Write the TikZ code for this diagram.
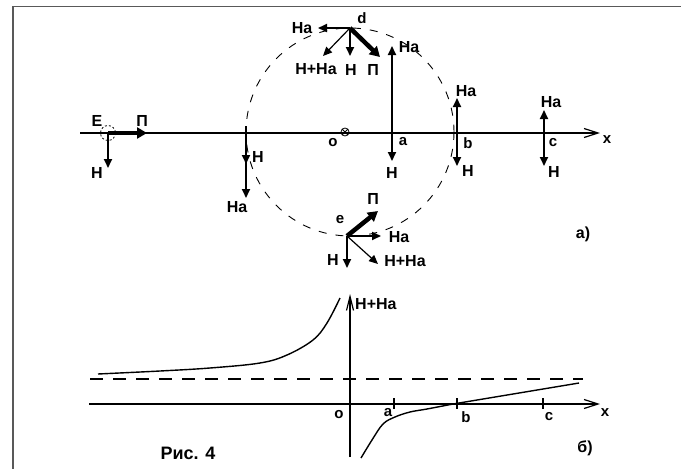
\documentclass[tikz,border=0pt]{standalone}
\usepackage{fontspec}
\setmainfont{Liberation Sans}
\usetikzlibrary{arrows.meta}
\begin{document}
\begin{tikzpicture}[x=1pt,y=-1pt,
  lbl/.style={font=\bfseries\fontsize{16}{16}\selectfont, inner sep=0pt},
  sml/.style={font=\bfseries\fontsize{15}{15}\selectfont, inner sep=0pt},
  big/.style={font=\bfseries\fontsize{18}{18}\selectfont, inner sep=0pt},
  vec/.style={line width=2pt, -{Triangle[length=9pt,width=8pt]}},
  thinvec/.style={line width=1.2pt, -{Triangle[length=9pt,width=8pt]}},
  pvec/.style={line width=4.5pt, -{Triangle[length=10pt,width=11pt]}},
  axis/.style={line width=1.2pt, -{Straight Barb[length=14pt,width=9pt]}},
  frameline/.style={line width=1.6pt, draw=black!65},
  circ/.style={dash pattern=on 8pt off 9pt, line width=0.9pt},
  curve/.style={line width=1.4pt}]
\useasboundingbox (0,0) rectangle (681,469);
\draw[frameline] (13,469) -- (13,6.5) -- (681,6.5);

% ---------- part a) ----------
\coordinate (A0) at (80,133); \coordinate (A1) at (600,133);
\draw[axis] (A0) -- (A1);
\node[sml] (xa) at (607,140) {x};

\draw[circ] (350,132) circle (104);

% point E
\coordinate (E) at (108,133);
\coordinate (Ep) at (147,133);
\coordinate (Eh) at (108,168);
\draw[dash pattern=on 2pt off 2pt, line width=0.8pt] (E) circle (7.5);
\draw[pvec] (E) -- (Ep);
\draw[vec] (E) -- (Eh);
\node[lbl] (Elab) at (97,121) {E};
\node[lbl] (EPl) at (142,121) {П};
\node[lbl] (EHl) at (97,173) {H};

% left crossing
\coordinate (L) at (246,133);
\coordinate (Ltop) at (246,126);
\coordinate (LH) at (246,164);
\coordinate (LHa) at (246,198);
\draw[vec] (Ltop) -- (LHa);
\draw[vec] (L) -- (LH);
\node[lbl] (LHl) at (258,157) {H};
\node[lbl] (LHal) at (237,207) {Ha};

% centre o
\node[circle, draw, line width=0.8pt, inner sep=0pt, minimum size=8pt] (oc) at (345,132) {};
\draw[line width=0.8pt] (oc.north east) -- (oc.south west) (oc.north west) -- (oc.south east);
\node[sml] (ol) at (333,143) {o};

% point a
\coordinate (Pa) at (392,133);
\coordinate (PaU) at (392,46);
\coordinate (PaD) at (392,161);
\draw[vec] (Pa) -- (PaU);
\draw[vec] (Pa) -- (PaD);
\node[lbl] (PaUl) at (409,47) {Ha};
\node[lbl] (PaDl) at (392,173) {H};
\node[sml] (PaL) at (403,142) {a};

% point b
\coordinate (Pb) at (457,133);
\coordinate (PbU) at (457,98);
\coordinate (PbD) at (457,166);
\draw[vec] (Pb) -- (PbU);
\draw[vec] (Pb) -- (PbD);
\node[lbl] (PbUl) at (466,91) {Ha};
\node[lbl] (PbDl) at (468,171) {H};
\node[sml] (PbL) at (468,143) {b};

% point c
\coordinate (Pc) at (544,133);
\coordinate (PcU) at (544,110);
\coordinate (PcD) at (544,166);
\draw[vec] (Pc) -- (PcU);
\draw[vec] (Pc) -- (PcD);
\node[lbl] (PcUl) at (551,102) {Ha};
\node[lbl] (PcDl) at (554,172) {H};
\node[sml] (PcL) at (553,143) {c};

% point d
\coordinate (D) at (350,28);
\coordinate (DHa) at (318,28);
\coordinate (DS) at (323,56);
\coordinate (DH) at (350,56);
\coordinate (DP) at (380,57);
\draw[vec] (D) -- (DHa);
\draw[thinvec] (D) -- (DS);
\draw[vec] (D) -- (DH);
\draw[pvec] (D) -- (DP);
\node[sml] (Dl) at (362,18) {d};
\node[lbl] (DHal) at (302,28) {Ha};
\node[lbl] (DSl) at (316,69) {H+Ha};
\node[lbl] (DHl) at (351,70) {H};
\node[lbl] (DPl) at (373,70) {П};

% point e
\coordinate (Pe) at (347,236);
\coordinate (PeP) at (378,211);
\coordinate (PeHa) at (381,236);
\coordinate (PeH) at (347,268);
\coordinate (PeS) at (378,264);
\draw[thinvec] (Pe) -- (PeS);
\draw[vec] (Pe) -- (PeHa);
\draw[vec] (Pe) -- (PeH);
\draw[pvec] (Pe) -- (PeP);
\node[sml] (Pel) at (340,220) {e};
\node[lbl] (PePl) at (373,199) {П};
\node[lbl] (PeHal) at (399,237) {Ha};
\node[lbl] (PeHl) at (333,260) {H};
\node[lbl] (PeSl) at (405,261) {H+Ha};

\node[lbl] (tagA) at (583,234) {a)};

% ---------- part b) ----------
\coordinate (B0) at (89,404); \coordinate (B1) at (600,404);
\coordinate (V0) at (350,457); \coordinate (V1) at (350,294);
\draw[axis] (B0) -- (B1);
\draw[line width=1.2pt, -{Straight Barb[length=14pt,width=7pt]}] (V0) -- (V1);
\coordinate (H0) at (90,379); \coordinate (H1) at (583,379);
\draw[dash pattern=on 13pt off 10pt, line width=1.2pt] (H0) -- (H1);

\foreach \t/\xx in {ta/394, tb/457, tc/543}{
  \coordinate (\t1) at (\xx,398); \coordinate (\t2) at (\xx,409);
  \draw[line width=1.2pt] (\t1) -- (\t2);
}
\node[sml] (bo) at (339,415) {o};
\node[sml] (ba) at (388,413) {a};
\node[sml] (bb) at (466,417) {b};
\node[sml] (bc) at (549,417) {c};
\node[sml] (bx) at (605,413) {x};
\node[lbl, anchor=west] (bS) at (355,304) {H+Ha};

\draw[curve] plot[smooth, tension=0.6] coordinates
  {(98,374) (160,371) (210,368) (260,363) (287,355) (313,340) (327,323) (340,298)};
\draw[curve] plot[smooth, tension=0.6] coordinates
  {(361,458) (372,440) (383,424) (395,417) (410,412) (427,409) (453,404)} -- (579,383);

\node[big] (fig) at (188,453) {Рис. 4};
\node[lbl] (tagB) at (585,448) {б)};
\end{tikzpicture}
\end{document}
